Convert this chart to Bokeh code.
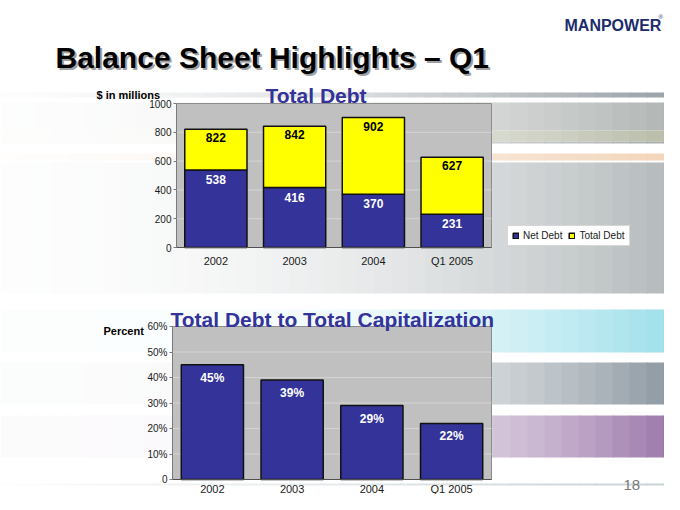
from bokeh.plotting import figure
from bokeh.models import (Range1d, FixedTicker, Label, LabelSet, LinearAxis,
                          Legend, LegendItem, ColumnDataSource)
from bokeh.core.properties import value
from bokeh.embed import file_html
from bokeh.resources import INLINE

# ---------------- data ----------------
categories = ["2002", "2003", "2004", "Q1 2005"]
net_debt = [538, 416, 370, 231]
total_debt = [822, 842, 902, 627]
debt_ticks = [0, 200, 400, 600, 800, 1000]
cap_pct = [45, 39, 29, 22]
pct_ticks = [0, 10, 20, 30, 40, 50, 60]
pct_tick_labels = ["0", "10%", "20%", "30%", "40%", "50%", "60%"]
legend_labels = ["Net Debt", "Total Debt"]

# ---------------- style / layout ----------------
FONT = "Liberation Sans"
NAVY = "#333399"
YELLOW = "#ffff00"
W, H = 664, 494

# decorative background bands (px): (top, bottom, colour, fade power)
BANDS = [
    (92, 97, "#98a0a6", 1.6),
    (102, 130, "#aeb3b2", 2.0),
    (130, 141, "#b6baa6", 2.0),
    (141, 143, "#a4a8a8", 2.0),
    (153, 160, "#f2d4b8", 1.5),
    (162, 293, "#b2b8ba", 2.0),
    (309, 352, "#98dde9", 3.0),
    (362, 404, "#87939c", 3.0),
    (415, 457, "#9670a4", 3.0),
    (483, 485, "#c9d2d6", 1.0),
]
NSLICE = 40

TOP = dict(name="top", l=176, t=103, w=315, h=144, yr=(0, 1000), standoff=7)
BOT = dict(name="bot", l=172, t=326, w=319, h=153, yr=(0, 60), standoff=3)


def blend(color, a):
    r, g, b = int(color[1:3], 16), int(color[3:5], 16), int(color[5:7], 16)
    mix = [round(255 * (1 - a) + c * a) for c in (r, g, b)]
    return "#%02x%02x%02x" % tuple(mix)


p = figure(width=W, height=H, x_range=Range1d(0, W), y_range=Range1d(H, 0),
           x_axis_location=None, y_axis_location=None, min_border=0,
           output_backend="svg", toolbar_location=None)
p.outline_line_color = None
p.background_fill_color = "white"
p.border_fill_color = "white"
p.xgrid.visible = False
p.ygrid.visible = False

# background bands, fading in from the left (opaque slices, no seams)
bl, br, bt, bb, bc = [], [], [], [], []
step = 680.0 / NSLICE
for top, bot, color, power in BANDS:
    for i in range(NSLICE):
        x0 = i * step
        t = (i + 0.5) / NSLICE
        bl.append(x0)
        br.append(x0 + step + 1)
        bt.append(top)
        bb.append(bot)
        bc.append(blend(color, 0.03 + 0.97 * t ** power))
p.quad(left=bl, right=br, top=bt, bottom=bb, fill_color=bc, line_color=None)

n = len(categories)
xs = [i + 0.5 for i in range(n)]
extra_x, extra_y = {}, {}


def setup_chart(fr, ticks, overrides=None):
    kx = fr["w"] / n
    y0, y1 = fr["yr"]
    ky = fr["h"] / (y1 - y0)
    extra_x[fr["name"] + "_x"] = Range1d(-fr["l"] / kx, n + (W - fr["l"] - fr["w"]) / kx)
    extra_y[fr["name"] + "_y"] = Range1d(y0 - (H - fr["t"] - fr["h"]) / ky, y1 + fr["t"] / ky)
    kw = dict(x_range_name=fr["name"] + "_x", y_range_name=fr["name"] + "_y")
    p.extra_x_ranges = dict(extra_x)
    p.extra_y_ranges = dict(extra_y)
    # plot area and grid
    p.quad(left=0, right=n, bottom=y0, top=y1, fill_color="#c0c0c0",
           line_color="#8c8c8c", line_width=1, **kw)
    p.segment(x0=0, x1=n, y0=ticks[1:-1], y1=ticks[1:-1], line_color="#d4d4d4",
              line_width=1, **kw)
    yax = LinearAxis(fixed_location=0, bounds=(y0, y1), ticker=FixedTicker(ticks=ticks), **kw)
    yax.axis_line_color = "#7a7a7a"
    yax.major_tick_line_color = "#7a7a7a"
    yax.major_tick_out = 3
    yax.major_tick_in = 0
    yax.minor_tick_out = 0
    yax.minor_tick_in = 0
    yax.major_label_standoff = 2
    yax.major_label_text_font = FONT
    yax.major_label_text_font_size = "10px"
    yax.major_label_text_color = "#1a1a1a"
    if overrides:
        yax.major_label_overrides = overrides
    p.add_layout(yax, "left")
    xax = LinearAxis(fixed_location=y0, bounds=(0, n), ticker=FixedTicker(ticks=xs),
                     major_label_overrides=dict(zip(xs, categories)), **kw)
    xax.axis_line_color = "#505050"
    xax.major_tick_line_color = None
    xax.major_tick_out = 0
    xax.major_tick_in = 0
    xax.minor_tick_out = 0
    xax.minor_tick_in = 0
    xax.major_label_standoff = fr["standoff"]
    xax.major_label_text_font = FONT
    xax.major_label_text_font_size = "11px"
    xax.major_label_text_color = "#1a1a1a"
    p.add_layout(xax, "below")
    return kw


def add_text(cx, cy, text, size, color="black", style="bold", align="left"):
    p.add_layout(Label(x=cx, y=cy, text=text, text_font=FONT, text_font_size=f"{size}px",
                       text_font_style=style, text_color=color, text_align=align,
                       text_baseline="alphabetic"))


# ---------------- top chart: Total Debt ----------------
kw1 = setup_chart(TOP, debt_ticks)
src1 = ColumnDataSource(dict(x=xs, net=net_debt, total=total_debt,
                             net_lbl=[str(v) for v in net_debt],
                             tot_lbl=[str(v) for v in total_debt]))
r_net = p.vbar(x="x", bottom=0, top="net", width=0.79, source=src1,
               fill_color=NAVY, line_color="#111111", line_width=1.5, **kw1)
r_tot = p.vbar(x="x", bottom="net", top="total", width=0.79, source=src1,
               fill_color=YELLOW, line_color="#111111", line_width=1.5, **kw1)
p.add_layout(LabelSet(x="x", y="total", text="tot_lbl", source=src1, y_offset=-4,
                      text_align="center", text_baseline="top", text_font=value(FONT),
                      text_font_size="12px", text_font_style="bold", text_color="black", **kw1))
p.add_layout(LabelSet(x="x", y="net", text="net_lbl", source=src1, y_offset=-5,
                      text_align="center", text_baseline="top", text_font=value(FONT),
                      text_font_size="12px", text_font_style="bold", text_color="white", **kw1))

legend = Legend(items=[LegendItem(label=legend_labels[0], renderers=[r_net]),
                       LegendItem(label=legend_labels[1], renderers=[r_tot])],
                location=(507, H - 246), orientation="horizontal",
                label_text_font=FONT, label_text_font_size="10px", label_text_color="#1a1a1a",
                glyph_width=7, glyph_height=7, label_height=9, label_standoff=4,
                spacing=6, padding=4, margin=0,
                border_line_color="#b0b0b0", background_fill_color="white",
                background_fill_alpha=1)
p.add_layout(legend)

# ---------------- bottom chart: Total Debt to Total Capitalization ----------------
kw2 = setup_chart(BOT, pct_ticks, dict(zip(pct_ticks, pct_tick_labels)))
src2 = ColumnDataSource(dict(x=xs, pct=cap_pct, lbl=[f"{v}%" for v in cap_pct]))
p.vbar(x="x", bottom=0, top="pct", width=0.78, source=src2,
       fill_color=NAVY, line_color="#111111", line_width=1.5, **kw2)
p.add_layout(LabelSet(x="x", y="pct", text="lbl", source=src2, y_offset=-6,
                      text_align="center", text_baseline="top", text_font=value(FONT),
                      text_font_size="12px", text_font_style="bold", text_color="white", **kw2))

# ---------------- slide texts ----------------
add_text(57, 59, "Balance Sheet Highlights \u2013 Q1", 30, color="#a0a0a0")
add_text(55, 57, "Balance Sheet Highlights \u2013 Q1", 30, color="black")
add_text(564, 25, "MANPOWER", 16, color="#1c2c6c")
add_text(658, 16, "\u00ae", 6, color="#1c2c6c", style="normal")
add_text(96, 94, "$ in millions", 11)
add_text(265, 95, "Total Debt", 21, color=NAVY)
add_text(170, 319, "Total Debt to Total Capitalization", 21, color=NAVY)
add_text(103, 330, "Percent", 11)
add_text(623, 484, "18", 15, color="#7a7a7a", style="normal")

open("out.html", "w").write(file_html(p, INLINE))
